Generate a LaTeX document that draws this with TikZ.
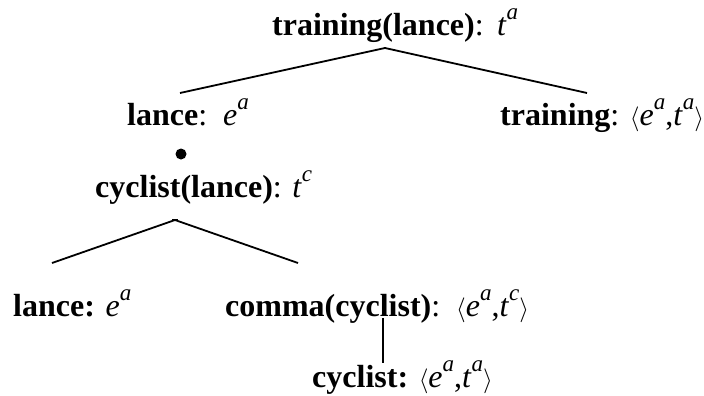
\documentclass[tikz,border=0pt]{standalone}
\usepackage{fontspec}
\setmainfont{Liberation Serif}
\usetikzlibrary{positioning}
\newcommand\ex[1]{\raisebox{0.5em}{\fontsize{23}{23}\selectfont\textit{#1}}}

\begin{document}
\begin{tikzpicture}[x=1pt,y=-1pt]
      \useasboundingbox (0,0) rectangle (704,396);
      \begin{scope}[every node/.style={inner sep=0pt,anchor=base west,font=\fontsize{32}{38}\selectfont}]
        \node (T) at (272,36) {\textbf{training(lance)}:\ \,\textit{t}\ex{a}};
        \node (L) at (127,125) {\textbf{lance}:\ \ \textit{e}\ex{a}};
        \node (R) at (500,125) {\textbf{training}: $\langle$\textit{e}\ex{a},\textit{t}\ex{a}$\rangle$};
        \node (C) at (95,197) {\textbf{cyclist(lance)}: \textit{t}\ex{c}};
        \node (L2) at (13,316) {\textbf{lance:} \textit{e}\ex{a}};
        \node (M) at (225,316) {\textbf{comma(cyclist)}:\ \ $\langle$\textit{e}\ex{a},\textit{t}\ex{c}$\rangle$};
        \node (Y) at (312,387) {\textbf{cyclist:} $\langle$\textit{e}\ex{a},\textit{t}\ex{a}$\rangle$};
      \end{scope}
      \node (dot) [circle,fill,inner sep=0pt,minimum size=11pt] at (181,154) {};
      % line ends
      \coordinate (Ttop) at (385,48);
      \coordinate (Tl) at (180,93);
      \coordinate (Tr) at (587,93);
      \coordinate (Ctop) at (175,220);
      \coordinate (Cl) at (52,263);
      \coordinate (Cr) at (298,263);
      \coordinate (Mb) at (383,318);
      \coordinate (Yt) at (383,363);
      \begin{scope}[every edge/.style={draw=black,line width=1.8pt}]
        \path (Ttop) edge (Tl);
        \path (Ttop) edge (Tr);
        \path (Ctop) edge (Cl);
        \path (Ctop) edge (Cr);
        \path ([xshift=-3pt]Ctop) edge ([xshift=3pt]Ctop);
        \path (Mb) edge[line width=1.2pt] (Yt);
      \end{scope}
    \end{tikzpicture}
\end{document}
